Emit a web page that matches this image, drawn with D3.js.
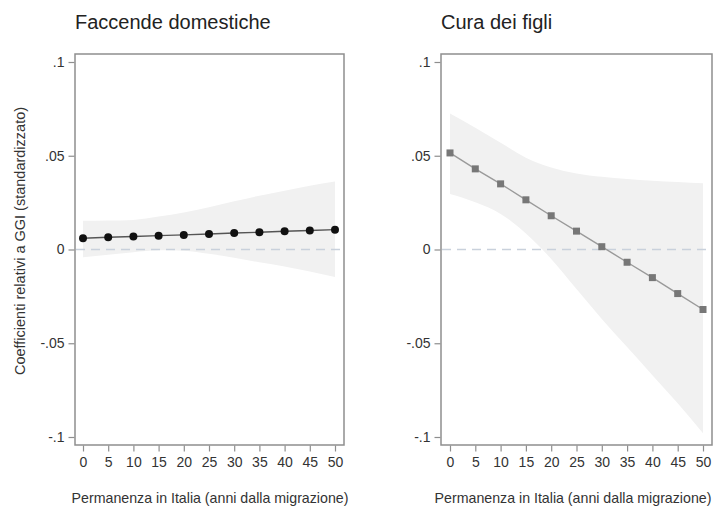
<!DOCTYPE html>
<html>
<head>
<meta charset="utf-8">
<script src="https://cdn.jsdelivr.net/npm/d3@7"></script>
<style>
  body { margin: 0; background: #fff; }
  svg { display: block; font-family: "Liberation Sans", Arial, sans-serif; }
</style>
</head>
<body>
<svg id="chart" width="717" height="507"></svg>
<script>
// years since migration
const years = [0, 5, 10, 15, 20, 25, 30, 35, 40, 45, 50];

// Faccende domestiche
const houseCoef = [0.0060, 0.0065, 0.0069, 0.0074, 0.0078, 0.0083, 0.0088, 0.0092, 0.0097, 0.0101, 0.0106];
const houseHi = [0.0154, 0.0155, 0.0158, 0.0176, 0.0198, 0.0225, 0.0257, 0.0287, 0.0314, 0.0340, 0.0363];
const houseLo = [-0.0041, -0.0028, -0.0014, -0.0004, -0.0006, -0.0023, -0.0044, -0.0068, -0.0090, -0.0117, -0.0147];

// Cura dei figli
const childCoef = [0.0515, 0.0430, 0.0350, 0.0265, 0.0180, 0.0098, 0.0015, -0.0068, -0.0150, -0.0235, -0.0320];
const childHi = [0.0725, 0.0650, 0.0570, 0.0490, 0.0438, 0.0406, 0.0388, 0.0376, 0.0367, 0.0360, 0.0353];
const childLo = [0.0296, 0.0252, 0.0190, 0.0085, -0.0050, -0.0210, -0.0370, -0.0520, -0.0670, -0.0820, -0.0980];

const yTicks = [0.1, 0.05, 0, -0.05, -0.1];
const yTickLabels = ['.1', '.05', '0', '-.05', '-.1'];
const panelTitles = ['Faccende domestiche', 'Cura dei figli'];
const xTitle = 'Permanenza in Italia (anni dalla migrazione)';
const yTitle = 'Coefficienti relativi a GGI (standardizzato)';

const svg = d3.select('#chart');

const panels = [
    { title: panelTitles[0], coef: houseCoef, lo: houseLo, hi: houseHi, box: [75, 344], xr: [83, 335], marker: 'circle', titleX: 210 },
    { title: panelTitles[1], coef: childCoef, lo: childLo, hi: childHi, box: [441, 712], xr: [450, 703], marker: 'square', titleX: 573 }
];
const boxTop = 54;
const boxBottom = 445;

const y = d3.scaleLinear().domain([-0.1, 0.1]).range([437, 62]);

panels.forEach((p, pi) => {
    const x = d3.scaleLinear().domain([0, 50]).range(p.xr);
    const g = svg.append('g');

    // CI band
    const area = d3.area()
        .x((d, i) => x(years[i]))
        .y0((d, i) => y(p.lo[i]))
        .y1((d, i) => y(p.hi[i]))
        .curve(d3.curveMonotoneX);
    g.append('path').datum(years)
        .attr('d', area)
        .attr('fill', '#f1f1f1');

    // zero reference line
    g.append('line')
        .attr('x1', p.box[0] + 1).attr('x2', p.box[1] - 1)
        .attr('y1', y(0)).attr('y2', y(0))
        .attr('stroke', '#c9d1dc')
        .attr('stroke-width', 1.6)
        .attr('stroke-dasharray', '9,6');

    // line
    const line = d3.line()
        .x((d, i) => x(years[i]))
        .y(d => y(d));
    g.append('path').datum(p.coef)
        .attr('d', line)
        .attr('fill', 'none')
        .attr('stroke', pi === 0 ? '#555' : '#9a9a9a')
        .attr('stroke-width', 1.4);

    // markers
    if (p.marker === 'circle') {
        g.selectAll('.pt').data(p.coef).enter().append('circle')
            .attr('cx', (d, i) => x(years[i]))
            .attr('cy', d => y(d))
            .attr('r', 4)
            .attr('fill', '#111');
    } else {
        g.selectAll('.pt').data(p.coef).enter().append('rect')
            .attr('x', (d, i) => x(years[i]) - 3.5)
            .attr('y', d => y(d) - 3.5)
            .attr('width', 7)
            .attr('height', 7)
            .attr('fill', '#777');
    }

    // plot box
    g.append('rect')
        .attr('x', p.box[0]).attr('y', boxTop)
        .attr('width', p.box[1] - p.box[0])
        .attr('height', boxBottom - boxTop)
        .attr('fill', 'none')
        .attr('stroke', '#8e8e8e')
        .attr('stroke-width', 1.5);

    // y axis
    const yAxis = d3.axisLeft(y)
        .tickValues(yTicks)
        .tickFormat((d, i) => yTickLabels[i])
        .tickSize(6)
        .tickPadding(4);
    const gy = g.append('g')
        .attr('transform', `translate(${p.box[0] - 0.5},0)`)
        .call(yAxis);
    gy.select('.domain').remove();
    gy.selectAll('line').attr('stroke', '#8e8e8e').attr('stroke-width', 1.2);
    gy.selectAll('text').attr('font-size', 14).attr('fill', '#333')
        .attr('font-family', '"Liberation Sans", Arial, sans-serif');

    // x axis
    const xAxis = d3.axisBottom(x)
        .tickValues(years)
        .tickSize(6)
        .tickPadding(6);
    const gx = g.append('g')
        .attr('transform', `translate(0,${boxBottom + 0.5})`)
        .call(xAxis);
    gx.select('.domain').remove();
    gx.selectAll('line').attr('stroke', '#8e8e8e').attr('stroke-width', 1.2);
    gx.selectAll('text').attr('font-size', 14).attr('fill', '#333')
        .attr('font-family', '"Liberation Sans", Arial, sans-serif');

    // x title
    g.append('text')
        .attr('x', p.titleX)
        .attr('y', 503)
        .attr('text-anchor', 'middle')
        .attr('font-size', 14.2)
        .attr('fill', '#333')
        .text(xTitle);

    // panel title
    g.append('text')
        .attr('x', p.box[0])
        .attr('y', 29)
        .attr('font-size', 20)
        .attr('fill', '#222')
        .text(p.title);
});

// y title (left panel only)
svg.append('text')
    .attr('transform', 'translate(25,241) rotate(-90)')
    .attr('text-anchor', 'middle')
    .attr('font-size', 14.5)
    .attr('fill', '#333')
    .text(yTitle);
</script>
</body>
</html>
